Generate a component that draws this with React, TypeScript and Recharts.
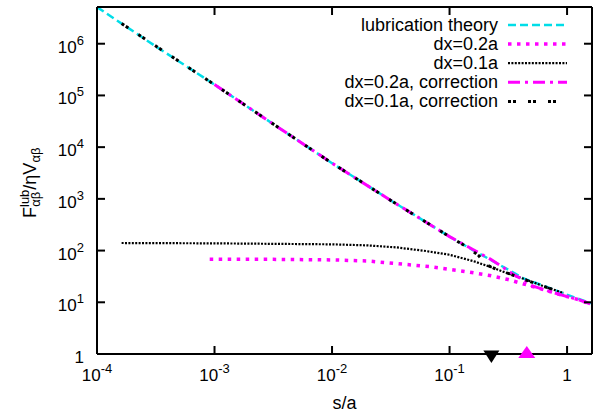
import { ComposedChart, Line, Scatter, XAxis, YAxis } from 'recharts'

// s/a values and forces (log-log)
const lubS = [1e-4, 3.16e-4, 1e-3, 3.16e-3, 1e-2, 3.16e-2, 0.1, 0.158, 0.224, 0.316, 0.427, 0.631, 0.933, 1.62]
const lubF = [5.1e6, 8.9e5, 1.62e5, 2.8e4, 4.9e3, 933, 186, 102, 66, 42.7, 28.8, 20.9, 14.8, 9.5]

const dx02S = [9.1e-4, 3.16e-3, 1e-2, 0.02, 0.0355, 0.068, 0.13, 0.22, 0.316, 0.5, 0.71, 1.0, 1.26, 1.62]
const dx02F = [67.6, 67.6, 66, 63, 56, 49, 40, 33, 27.5, 20.4, 16.2, 12.9, 11.2, 9.1]

const dx01S = [1.62e-4, 1e-3, 1e-2, 0.02, 0.0355, 0.063, 0.1, 0.158, 0.224, 0.316, 0.447, 0.63, 0.933]
const dx01F = [140, 138, 132, 126, 115, 98, 83, 63, 48, 36, 27.5, 20.4, 15.1]

const corr02S = [1e-3, 3.16e-3, 1e-2, 3.16e-2, 0.1, 0.158, 0.224, 0.31, 0.36, 0.43, 0.5, 0.71, 1.0, 1.26, 1.62]
const corr02F = [1.62e5, 2.8e4, 4.9e3, 933, 186, 105, 67.6, 41.7, 33.1, 26.9, 20.9, 16.2, 12.9, 11.2, 9.1]

const corr01S = [1.62e-4, 1e-3, 3.16e-3, 1e-2, 3.16e-2, 0.1, 0.141, 0.178, 0.2, 0.25, 0.316, 0.447, 0.63, 0.933]
const corr01F = [2.45e6, 1.62e5, 2.8e4, 4.9e3, 933, 186, 117, 79, 55, 43.6, 36.3, 26.9, 20.4, 15.1]

// markers on the s/a axis
const markerDownS = [0.227]
const markerUpS = [0.454]

const xTicks = [1e-4, 1e-3, 1e-2, 1e-1, 1]
const yTicks = [1, 10, 100, 1e3, 1e4, 1e5, 1e6]

const CYAN = '#00dde8'
const MAGENTA = '#ff00ff'
const FONT = "'Liberation Sans', Arial, sans-serif"

// frame layout
const W = 604
const H = 416
const MARGIN = { top: 6, right: 11, left: 0, bottom: 0 }
const PLOT_TOP = MARGIN.top + 1
const PLOT_RIGHT = W - MARGIN.right - 1
const TICK_LEN = 8

const toRows = (s: number[], f: number[]) => s.map((v, i) => ({ s: v, F: f[i] }))

const series = [
  { name: 'lubrication theory', color: CYAN, dash: '8 4', width: 2.5, data: toRows(lubS, lubF) },
  { name: 'dx=0.2a', color: MAGENTA, dash: '3.5 5.5', width: 3.5, data: toRows(dx02S, dx02F) },
  { name: 'dx=0.1a', color: '#000', dash: '2 1.4', width: 2.2, data: toRows(dx01S, dx01F) },
  { name: 'dx=0.2a, correction', color: MAGENTA, dash: '12 5 3 5', width: 3, data: toRows(corr02S, corr02F) },
  { name: 'dx=0.1a, correction', color: '#000', dash: '3 2 3 12', width: 3, data: toRows(corr01S, corr01F) },
]

function exponentOf(v: number) {
  return Math.round(Math.log10(v))
}

function PowerLabel({ v }: { v: number }) {
  const e = exponentOf(v)
  if (e === 0) return <tspan>1</tspan>
  return (
    <>
      <tspan>10</tspan>
      <tspan dy={-8} fontSize={13}>{e}</tspan>
    </>
  )
}

// bottom axis: tickMargin 27 -> label baseline 27px under the axis line
// inward ticks on bottom and mirrored on top
function XTick({ x, y, payload }: any) {
  const axisY = y - 27
  return (
    <g>
      <line x1={x} x2={x} y1={axisY} y2={axisY - TICK_LEN} stroke="#000" strokeWidth={2} />
      <line x1={x} x2={x} y1={PLOT_TOP} y2={PLOT_TOP + TICK_LEN} stroke="#000" strokeWidth={2} />
      <text x={x} y={y} textAnchor="middle" fontSize={17} fill="#000">
        <PowerLabel v={payload.value} />
      </text>
    </g>
  )
}

// left axis: tickMargin 13 -> label end 13px left of the axis line
function YTick({ x, y, payload }: any) {
  const axisX = x + 13
  return (
    <g>
      <line x1={axisX} x2={axisX + TICK_LEN} y1={y} y2={y} stroke="#000" strokeWidth={2} />
      <line x1={PLOT_RIGHT - TICK_LEN} x2={PLOT_RIGHT} y1={y} y2={y} stroke="#000" strokeWidth={2} />
      <text x={x} y={y + 9} textAnchor="end" fontSize={17} fill="#000">
        <PowerLabel v={payload.value} />
      </text>
    </g>
  )
}

function YLabel() {
  const cx = 36
  const cy = 218
  return (
    <text x={cx} y={cy} transform={`rotate(-90 ${cx} ${cy})`} textAnchor="start" fontSize={18} fill="#000">
      <tspan>F</tspan>
      <tspan dy={-7} fontSize={13}>lub</tspan>
      <tspan dx={-17} dy={11} fontSize={13}>αβ</tspan>
      <tspan dx={2} dy={-4}>/ηV</tspan>
      <tspan dy={4} fontSize={13}>αβ</tspan>
    </text>
  )
}

const DownTri = ({ cx, cy }: any) => (
  <path d={`M${cx - 8},${cy - 3.5}L${cx + 8},${cy - 3.5}L${cx},${cy + 9}Z`} fill="#000" />
)
const UpTri = ({ cx, cy }: any) => (
  <path d={`M${cx - 8.5},${cy + 4}L${cx + 8.5},${cy + 4}L${cx},${cy - 8}Z`} fill={MAGENTA} />
)

function KeyBox() {
  return (
    <svg width={W} height={120} style={{ position: 'absolute', left: 0, top: 0, fontFamily: FONT }}>
      {series.map((sr, i) => {
        const y = 25 + i * 19.1
        return (
          <g key={sr.name}>
            <text x={498} y={y + 6} textAnchor="end" fontSize={18} fill="#000">{sr.name}</text>
            <line x1={508} x2={567} y1={y} y2={y} stroke={sr.color} strokeWidth={sr.width} strokeDasharray={sr.dash} />
          </g>
        )
      })}
    </svg>
  )
}

const axisStroke = { stroke: '#000', strokeWidth: 2 }

export default function App() {
  return (
    <div style={{ position: 'absolute', left: 0, top: 0, width: W, height: H, background: '#fff' }}>
      <ComposedChart width={W} height={H} margin={MARGIN} style={{ fontFamily: FONT }}>
        <XAxis
          xAxisId={0}
          dataKey="s"
          type="number"
          scale="log"
          domain={[1e-4, 1.63]}
          ticks={xTicks}
          interval={0}
          height={62}
          tickSize={0}
          tickMargin={27}
          axisLine={axisStroke}
          tickLine={false}
          tick={XTick}
          label={{ value: 's/a', position: 'insideBottom', offset: 7, fill: '#000', fontSize: 18 }}
        />
        <XAxis
          xAxisId="top"
          orientation="top"
          dataKey="s"
          type="number"
          scale="log"
          domain={[1e-4, 1.63]}
          ticks={xTicks}
          height={1}
          axisLine={axisStroke}
          tickLine={false}
          tick={false}
        />
        <YAxis
          yAxisId={0}
          dataKey="F"
          type="number"
          scale="log"
          domain={[1, 5.13e6]}
          ticks={yTicks}
          interval={0}
          width={97}
          tickSize={0}
          tickMargin={13}
          axisLine={axisStroke}
          tickLine={false}
          tick={YTick}
        />
        <YAxis
          yAxisId="right"
          orientation="right"
          dataKey="F"
          type="number"
          scale="log"
          domain={[1, 5.13e6]}
          ticks={yTicks}
          width={1}
          axisLine={axisStroke}
          tickLine={false}
          tick={false}
        />
        {series.map((sr) => (
          <Line
            key={sr.name}
            xAxisId={0}
            yAxisId={0}
            data={sr.data}
            dataKey="F"
            name={sr.name}
            type="linear"
            stroke={sr.color}
            strokeWidth={sr.width}
            strokeDasharray={sr.dash}
            strokeLinecap="butt"
            dot={false}
            activeDot={false}
            isAnimationActive={false}
          />
        ))}
        <Scatter xAxisId={0} yAxisId={0} data={markerDownS.map((s) => ({ s, F: 1 }))} dataKey="F" shape={DownTri} isAnimationActive={false} />
        <Scatter xAxisId={0} yAxisId={0} data={markerUpS.map((s) => ({ s, F: 1 }))} dataKey="F" shape={UpTri} isAnimationActive={false} />
        <YLabel />
      </ComposedChart>
      <KeyBox />
    </div>
  )
}
